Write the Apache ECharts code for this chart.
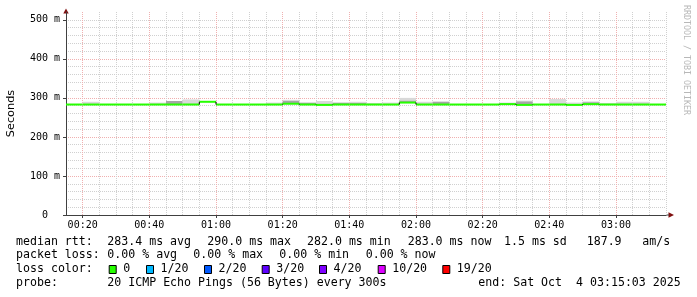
<!DOCTYPE html>
<html><head><meta charset="utf-8">
<script src="https://cdn.jsdelivr.net/npm/echarts@6/dist/echarts.min.js"></script>
<style>html,body{margin:0;padding:0;background:#fff}#c{width:697px;height:297px}</style>
</head><body><div id="c"></div>
<script>
// ---- data ----
const startMinute = 15;   // 00:15 (graph start)
const stepMinutes = 5;    // 300 s steps
const median   = [283,283,283,283,283,283,283,283,290,283,283,283,283,285,283,282,283,283,283,283,288,283,283,283,283,283,284,282,283,283,282,284,283,283,283,283];
const smokeMid = [283,284,283,283,283,284,292,285,290,283,283,283,284,292,287,285,287,287,284,284,293,285,290,283,283,283,286,291,283,285,284,289,284,285,285,283];
const smokeTop = [283,290,283,283,283,288,292,296,290,283,283,283,288,295,289,292,289,290,287,288,300,290,291,283,283,283,288,293,283,297,288,291,287,290,290,283];
const xTickLabels = ['00:20','00:40','01:00','01:20','01:40','02:00','02:20','02:40','03:00'];
const yTickValues = [0,100,200,300,400,500];
const lossLabels = ['0','1/20','2/20','3/20','4/20','10/20','19/20'];
const lossColors = ['#26ff00','#00b8ff','#0059ff','#5e00ff','#7e00ff','#dd00ff','#ff0000'];
const statRtt  = ['283.4 ms avg','290.0 ms max','282.0 ms min','283.0 ms now','1.5 ms sd','187.9','am/s'];
const statLoss = ['0.00 % avg','0.00 % max','0.00 % min','0.00 % now'];
const probeText = '20 ICMP Echo Pings (56 Bytes) every 300s';
const endText = 'end: Sat Oct  4 03:15:03 2025';

// ---- build ----
function hhmm(m){const h=Math.floor(m/60),mm=m%60;return String(h).padStart(2,'0')+':'+String(mm).padStart(2,'0');}
const categories = [];
for (let i = 0; i <= median.length; i++) categories.push(hhmm(startMinute + i*stepMinutes));
const rows = median.map((m,i)=>[i, m, smokeMid[i], smokeTop[i], i>0?median[i-1]:m]);

const MONO = "'DejaVu Sans Mono', monospace";
const RED = '#f0b0b0', GRAY = '#d0d0d0';
const chart = echarts.init(document.getElementById('c'), null, {renderer:'canvas'});

const graphics = [];
function txt(x,y,s,extra){graphics.push(Object.assign({type:'text',x:x,y:y,silent:true,style:{text:s,font:'11.6px '+MONO,fill:'#000',textAlign:'left',textVerticalAlign:'middle'}},extra||{}));}
const L1=241.7,L2=255.2,L3=269.2,L4=282.8;
txt(16,L1,'median rtt:');
const rttX=[107.3,207.3,307,407.7,504,586.7,642.3];
statRtt.forEach((s,i)=>txt(rttX[i],L1,s));
txt(16,L2,'packet loss:');
const lossX=[107.3,193.3,279.3,365.7];
statLoss.forEach((s,i)=>txt(lossX[i],L2,s));
txt(16,L3,'loss color:');
const boxX=[108.7,146,204,261.7,319,377.7,442.3];
lossLabels.forEach((s,i)=>{
  graphics.push({type:'rect',silent:true,shape:{x:boxX[i]+0.5,y:265.5,width:7,height:8},style:{fill:lossColors[i],stroke:'#000',lineWidth:1}});
  txt(boxX[i]+14.5,L3,s);
});
txt(16,L4,'probe:');
txt(107.3,L4,probeText);
txt(478.3,L4,endText);
// y axis name
graphics.push({type:'text',x:11.5,y:113.5,rotation:Math.PI/2,silent:true,style:{text:'Seconds',font:"11.3px 'DejaVu Sans', sans-serif",fill:'#000',textAlign:'center',textVerticalAlign:'middle'}});
// watermark
graphics.push({type:'text',x:686.5,y:60,rotation:-Math.PI/2,silent:true,style:{text:'RRDTOOL / TOBI OETIKER',font:'8.3px '+MONO,fill:'#b8b8b8',textAlign:'center',textVerticalAlign:'middle'}});
// axis arrows
graphics.push({type:'polygon',silent:true,shape:{points:[[66,8.5],[63.3,13.5],[68.7,13.5]]},style:{fill:'#801010'}});
graphics.push({type:'polygon',silent:true,shape:{points:[[674,215],[668.5,212.3],[668.5,217.7]]},style:{fill:'#801010'}});
graphics.push({type:'line',silent:true,shape:{x1:666,y1:215,x2:669,y2:215},style:{stroke:'#404040',lineWidth:1}});

const option = {
  animation:false,
  backgroundColor:'#fff',
  grid:{left:66,right:31,top:12,bottom:82,containLabel:false},
  xAxis:{
    type:'category', data:categories, boundaryGap:false,
    axisLine:{show:true,lineStyle:{color:'#404040',width:1}},
    axisTick:{show:true,length:3,interval:(idx,val)=>xTickLabels.includes(val),lineStyle:{color:'#404040'}},
    axisLabel:{interval:(idx,val)=>xTickLabels.includes(val),margin:5,color:'#000',fontFamily:'DejaVu Sans Mono',fontSize:10},
    splitLine:{show:true,interval:0,lineStyle:{color:[GRAY,RED,GRAY,GRAY],type:[1,1],width:1}}
  },
  yAxis:[{
    type:'value', min:0, max:520, interval:20,
    axisLine:{show:true,lineStyle:{color:'#404040',width:1}},
    axisTick:{show:false}, axisLabel:{show:false},
    splitLine:{show:true,showMaxLine:false,lineStyle:{color:GRAY,type:[1,1],width:1}}
  },{
    type:'value', min:0, max:520, interval:100, position:'left',
    axisLine:{show:false},
    splitLine:{show:true,showMaxLine:false,lineStyle:{color:RED,type:[1,1],width:1}},
    axisTick:{show:true,length:3,customValues:yTickValues,lineStyle:{color:'#404040'}},
    axisLabel:{customValues:yTickValues,margin:6,color:'#000',fontFamily:'DejaVu Sans Mono',fontSize:10,
      formatter:v=>v===0?'0  ':v+' m'}
  }],
  series:[{
    type:'custom', data:rows, clip:true, yAxisIndex:0,
    encode:{x:0,y:1},
    renderItem:function(params, api){
      const i=api.value(0), med=api.value(1), mid=api.value(2), top=api.value(3), prev=api.value(4);
      const x0=api.coord([i,med])[0], x1=api.coord([i+1,med])[0];
      const yMed=api.coord([i,med])[1], yMid=api.coord([i,mid])[1], yTop=api.coord([i,top])[1], yPrev=api.coord([i,prev])[1];
      const ch=[];
      if(top>mid) ch.push({type:'rect',shape:{x:x0,y:yTop,width:x1-x0,height:yMid-yTop},style:{fill:'#d9d9d9'}});
      if(mid>med) ch.push({type:'rect',shape:{x:x0,y:yMid,width:x1-x0,height:yMed-yMid},style:{fill:'#a6a6a6'}});
      ch.push({type:'line',shape:{x1:x0,y1:yMed,x2:x1,y2:yMed},style:{stroke:lossColors[0],lineWidth:2}});
      if(prev!==med) ch.push({type:'line',shape:{x1:x0,y1:yPrev,x2:x0,y2:yMed},style:{stroke:'#000',lineWidth:1}});
      return {type:'group',children:ch};
    }
  }],
  graphic:graphics
};
chart.setOption(option);
</script></body></html>
